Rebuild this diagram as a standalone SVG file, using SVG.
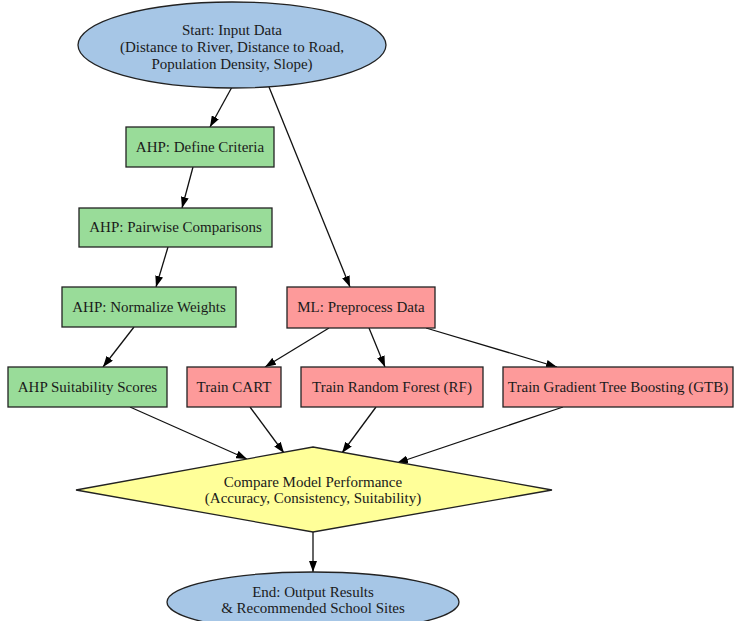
<svg xmlns="http://www.w3.org/2000/svg" width="735" height="621" viewBox="0 0 735 621">
<defs>
<marker id="ah" markerWidth="11" markerHeight="8" refX="11" refY="4" orient="auto" markerUnits="userSpaceOnUse">
<path d="M0,0 L11,4 L0,8 Z" fill="#000"/>
</marker>
<style>
text{font-family:"Liberation Serif","Times New Roman",serif;font-size:15px;fill:#1a1a1a;text-anchor:middle}
.blue{fill:#a6c6e6;stroke:#222;stroke-width:1.3}
.green{fill:#99dc99;stroke:#222;stroke-width:1.3}
.pink{fill:#fd9a9a;stroke:#222;stroke-width:1.3}
.yellow{fill:#ffff99;stroke:#222;stroke-width:1.3}
.edge{stroke:#111;stroke-width:1.3;fill:none;marker-end:url(#ah)}
</style>
</defs>
<rect width="735" height="621" fill="#fff"/>
<g id="connectors">
<line class="edge" x1="232" y1="87" x2="210" y2="127"/>
<line class="edge" x1="269" y1="87" x2="350" y2="287"/>
<line class="edge" x1="193" y1="167" x2="182" y2="208"/>
<line class="edge" x1="168" y1="247" x2="156" y2="287"/>
<line class="edge" x1="134" y1="327" x2="103" y2="367"/>
<line class="edge" x1="329" y1="328" x2="265" y2="367"/>
<line class="edge" x1="369" y1="328" x2="385" y2="367"/>
<line class="edge" x1="426" y1="328" x2="557" y2="367"/>
<line class="edge" x1="130" y1="407" x2="247" y2="459"/>
<line class="edge" x1="250" y1="407" x2="284" y2="453"/>
<line class="edge" x1="376" y1="407" x2="342" y2="453"/>
<line class="edge" x1="563" y1="407" x2="397" y2="463"/>
<line class="edge" x1="313" y1="532" x2="313" y2="572"/>
</g>
<g id="start">
<ellipse class="blue" cx="232" cy="45" rx="154" ry="43"/>
<text x="232" y="35">Start: Input Data</text>
<text x="232" y="52">(Distance to River, Distance to Road,</text>
<text x="232" y="69">Population Density, Slope)</text>
</g>
<g id="define">
<rect class="green" x="126" y="127" width="148" height="40"/>
<text x="200" y="152">AHP: Define Criteria</text>
</g>
<g id="pairwise">
<rect class="green" x="79" y="208" width="193" height="39"/>
<text x="175.5" y="232">AHP: Pairwise Comparisons</text>
</g>
<g id="normalize">
<rect class="green" x="62" y="287" width="174" height="40"/>
<text x="149" y="312">AHP: Normalize Weights</text>
</g>
<g id="suitability">
<rect class="green" x="8" y="367" width="159" height="40"/>
<text x="87.5" y="392">AHP Suitability Scores</text>
</g>
<g id="preprocess">
<rect class="pink" x="287" y="287" width="148" height="41"/>
<text x="361" y="312">ML: Preprocess Data</text>
</g>
<g id="cart">
<rect class="pink" x="187" y="367" width="94" height="40"/>
<text x="234" y="392">Train CART</text>
</g>
<g id="rf">
<rect class="pink" x="301" y="367" width="182" height="40"/>
<text x="392" y="392">Train Random Forest (RF)</text>
</g>
<g id="gtb">
<rect class="pink" x="503" y="367" width="230" height="40"/>
<text x="618" y="392">Train Gradient Tree Boosting (GTB)</text>
</g>
<g id="compare">
<polygon class="yellow" points="313,447 552,490 313,532 76,490"/>
<text x="313" y="487">Compare Model Performance</text>
<text x="313" y="503">(Accuracy, Consistency, Suitability)</text>
</g>
<g id="end">
<ellipse class="blue" cx="313" cy="602" rx="146" ry="30"/>
<text x="313" y="597">End: Output Results</text>
<text x="313" y="613">&amp; Recommended School Sites</text>
</g>
</svg>
